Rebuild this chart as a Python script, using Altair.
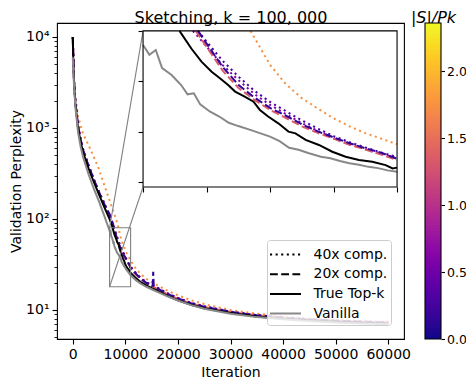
import altair as alt
import numpy as np
import pandas as pd

FONT = "DejaVu Sans"

# ---------------- layout ----------------
W, H = 347, 316
X_DOMAIN = [-3000, 63000]
Y_DOMAIN = [4.8, 14250]
ZOOM_X = [7000, 11000]
ZOOM_Y = [18, 80]
INSET_LEFT, INSET_RIGHT, INSET_BOTTOM, INSET_TOP = 0.248, 0.98, 0.481, 0.975
CBAR_MAX = 2.36
CBAR_X = [368, 384]
TITLE_BASELINE = -0.5    # px above the plot area (page is clipped above)
TITLE_SIZE = 16

STYLES = ["40x comp.", "20x comp.", "True Top-k", "Vanilla"]
DASHES = [[2.1, 3.5], [7.8, 3.4], [1, 0], [1, 0]]
STYLE_COLORS = ["black", "black", "black", "#888888"]

X_TICKS = [0, 10000, 20000, 30000, 40000, 50000, 60000]
Y_TICKS = [5, 6, 7, 8, 9, 10, 20, 30, 40, 50, 60, 70, 80, 90,
           100, 200, 300, 400, 500, 600, 700, 800, 900,
           1000, 2000, 3000, 4000, 5000, 6000, 7000, 8000, 9000, 10000]
INSET_X_TICKS = [7000, 8000, 9000, 10000, 11000]
INSET_Y_TICKS = [20, 40, 60, 80]
CBAR_TICKS = [0.0, 0.5, 1.0, 1.5, 2.0]

# ---------------- data ----------------
ITER = [0, 250, 500, 1000, 1500, 2000, 3000, 4000, 5000, 6000,
        7000, 7250, 7500, 7750, 8000, 8250, 8500, 8750, 9000, 9250, 9500,
        9750, 10000, 10250, 10500, 10750, 11000,
        12000, 13000, 14000, 15000, 16000, 18000, 20000, 22500, 25000,
        30000, 35000, 40000, 45000, 50000, 55000, 60000]

ORANGE_40X = [10000, 3400, 2200, 1350, 1050, 850, 650, 480, 350, 235,
              160, 145, 132, 120, 109, 99, 88.5, 77.5, 66.5, 58.8, 53.3,
              49.2, 45.3, 42.1, 39.4, 37.2, 35.0,
              28.5, 24.6, 22.0, 20.2, 18.9, 16.3, 14.5, 12.8, 11.6,
              10.0, 9.1, 8.5, 8.1, 7.8, 7.6, 7.45]
INDIGO_40X = [10000, 3200, 1950, 1080, 760, 575, 390, 275, 200, 150,
              110, 100, 91, 83.5, 75.8, 68.2, 61.9, 56.3, 51.8, 48.1, 44.5,
              41.2, 38.2, 35.8, 33.7, 31.7, 30.0,
              25.5, 22.3, 20.2, 18.8, 17.7, 15.3, 13.6, 12.0, 11.0,
              9.6, 8.8, 8.25, 7.9, 7.65, 7.45, 7.3]
PURPLE_40X = [10000, 3150, 1920, 1060, 750, 565, 385, 270, 196, 146,
              107, 97, 88.5, 81, 73.8, 66.5, 60.5, 55.0, 50.6, 47.0, 43.4,
              40.3, 37.4, 35.0, 33.0, 31.1, 29.6,
              25.2, 22.1, 20.0, 18.7, 17.6, 15.2, 13.5, 11.95, 10.95,
              9.55, 8.75, 8.2, 7.85, 7.6, 7.42, 7.28]
PINK_20X = [10000, 3200, 1900, 1050, 740, 560, 380, 270, 195, 143,
            112, 102, 92, 83, 73.7, 64.3, 57.4, 52.7, 48.6, 45.4, 42.1,
            39.5, 37.2, 34.8, 32.9, 30.9, 28.7,
            24.5, 21.6, 19.6, 18.3, 17.2, 14.9, 13.3, 11.8, 10.8,
            9.5, 8.7, 8.2, 7.85, 7.6, 7.4, 7.25]
INDIGO_20X = [10000, 3200, 1920, 1060, 745, 565, 385, 272, 197, 145,
              113, 103, 93.5, 84.3, 75.0, 65.8, 58.6, 53.6, 49.4, 46.3, 42.9,
              40.1, 37.7, 35.4, 33.4, 31.6, 29.2,
              25.0, 22.0, 19.9, 18.5, 17.4, 15.0, 13.4, 11.9, 10.85,
              9.55, 8.75, 8.22, 7.88, 7.62, 7.43, 7.28]
SPIKE_ITER = [15200, 15300, 15400]
SPIKE_VAL = [18.4, 26.3, 18.3]

TOPK_ITER = [0, 100, 250, 500, 1000, 1500, 2000, 3000, 4000, 5000, 6000,
             7000, 7250, 7500, 7600, 7760, 7920, 8080, 8210, 8340, 8450,
             8600, 8740, 8840, 8970, 9130, 9290, 9400, 9560, 9770, 9980,
             10190, 10400, 10610, 10820, 10930, 11000,
             12000, 13000, 14000, 15000, 16000, 18000, 20000, 22500, 25000,
             30000, 35000, 40000, 45000, 50000, 55000, 60000]
TOPK_VAL = [10000, 5500, 3100, 1850, 1000, 700, 530, 360, 255, 185, 135,
            100, 91, 83, 79, 73, 67.8, 63.8, 61.2, 58.5, 55.9,
            53.9, 51.9, 48.6, 46.0, 43.3, 40.0, 39.3, 36.7, 34.7, 32.0,
            30.0, 28.7, 28.0, 26.7, 25.4, 25.7,
            22.4, 20.1, 18.6, 17.4, 16.4, 14.3, 12.8, 11.4, 10.45,
            9.25, 8.5, 8.0, 7.7, 7.45, 7.25, 7.1]

VAN_ITER = [0, 250, 500, 1000, 1500, 2000, 3000, 4000, 5000, 6000,
            7000, 7100, 7200, 7300, 7450, 7600, 7700, 7800, 7900, 8050,
            8200, 8350, 8500, 8700, 8850, 9000, 9150, 9300, 9450, 9600,
            9800, 9950, 10100, 10250, 10400, 10550, 10700, 10850, 11000,
            12000, 13000, 14000, 15000, 16000, 18000, 20000, 22500, 25000,
            30000, 35000, 40000, 45000, 50000, 55000, 60000]
VAN_VAL = [6000, 2850, 1700, 900, 620, 470, 310, 215, 155, 108,
           74.4, 70.5, 72.4, 65.2, 62.5, 58.5, 54.8, 55.2, 50.8, 48.0,
           46.0, 43.5, 42.2, 40.6, 39.3, 38.0, 36.2, 33.6, 32.8, 31.5,
           30.0, 29.4, 28.3, 27.4, 26.8, 26.0, 25.5, 24.6, 24.1,
           21.3, 19.4, 18.0, 16.9, 15.9, 14.1, 12.7, 11.3, 10.3,
           9.1, 8.35, 7.9, 7.55, 7.3, 7.12, 7.0]

# |S|/Pk of each sketched run
S_ORANGE_40X, S_INDIGO_40X, S_PURPLE_40X = 1.75, 0.3, 0.6
S_PINK_20X, S_INDIGO_20X = 1.35, 0.15

rows = []


def add(name, style, s, iters, vals):
    for i, v in sorted(zip(iters, vals)):
        rows.append(dict(series=name, style=style, s=s, iter=i, val=v))


add("orange40", STYLES[0], S_ORANGE_40X, ITER, ORANGE_40X)
add("purple40", STYLES[0], S_PURPLE_40X, ITER, PURPLE_40X)
add("indigo40", STYLES[0], S_INDIGO_40X, ITER, INDIGO_40X)
add("pink20", STYLES[1], S_PINK_20X, ITER, PINK_20X)
add("indigo20", STYLES[1], S_INDIGO_20X, ITER + SPIKE_ITER, INDIGO_20X + SPIKE_VAL)
add("topk", STYLES[2], np.nan, TOPK_ITER, TOPK_VAL)
add("vanilla", STYLES[3], np.nan, VAN_ITER, VAN_VAL)
df = pd.DataFrame(rows)

zoom_df = pd.DataFrame([dict(x0=ZOOM_X[0], x1=ZOOM_X[1], y0=ZOOM_Y[0], y1=ZOOM_Y[1])])

# inset corners expressed in main-axes data coordinates
lx0, lx1 = np.log10(Y_DOMAIN[0]), np.log10(Y_DOMAIN[1])
xi = X_DOMAIN[0] + INSET_LEFT * (X_DOMAIN[1] - X_DOMAIN[0])
yi_top = 10 ** (lx0 + INSET_TOP * (lx1 - lx0))
yi_bot = 10 ** (lx0 + INSET_BOTTOM * (lx1 - lx0))
conn_df = pd.DataFrame([
    dict(x=ZOOM_X[0], y=ZOOM_Y[1], x2=xi, y2=yi_top),
    dict(x=ZOOM_X[0], y=ZOOM_Y[0], x2=xi, y2=yi_bot),
])

# colour bar cells
edges = np.linspace(0, CBAR_MAX, 121)
step = edges[1] - edges[0]
cb_df = pd.DataFrame(dict(lo=edges[:-1], hi=np.minimum(edges[1:] + 0.6 * step, CBAR_MAX),
                          mid=(edges[:-1] + edges[1:]) / 2, c0=0.0, c1=1.0))
cb_box = pd.DataFrame([dict(lo=0.0, hi=CBAR_MAX, c0=0.0, c1=1.0)])

# ---------------- scales / axes ----------------
cscale = alt.Scale(scheme="plasma", domain=[0, CBAR_MAX])
dscale = alt.Scale(domain=STYLES, range=DASHES)
sscale = alt.Scale(domain=STYLES, range=STYLE_COLORS)

xs = alt.Scale(domain=X_DOMAIN, nice=False, zero=False)
ys = alt.Scale(type="log", domain=Y_DOMAIN, nice=False)

major = "datum.value == 10 || datum.value == 100 || datum.value == 1000 || datum.value == 10000"
x_axis = alt.Axis(values=X_TICKS, format="d", title="Iteration", labelFontSize=14,
                  titleFontSize=14, titleFontWeight="normal", tickSize=5, tickWidth=1.1,
                  domain=False, grid=False, labelPadding=3, titlePadding=4,
                  labelOverlap=False, labelFlush=False)
y_axis = alt.Axis(values=Y_TICKS, title="Validation Perplexity", labelFontSize=14,
                  labelExpr=("datum.value == 10 ? '10\u00b9' : datum.value == 100 ? '10\u00b2' : "
                             "datum.value == 1000 ? '10\u00b3' : datum.value == 10000 ? '10\u2074' : ''"),
                  tickSize={"condition": {"test": major, "value": 5}, "value": 3},
                  tickWidth={"condition": {"test": major, "value": 1.1}, "value": 0.85},
                  titleFontSize=14, titleFontWeight="normal", domain=False, grid=False,
                  labelPadding=3, labelOverlap=False, labelFlush=False,
                  titleAngle=270, titleX=-34, titleY=H / 2, titleBaseline="bottom",
                  titleAlign="center")

X = alt.X("iter:Q", scale=xs, axis=x_axis)
Y = alt.Y("val:Q", scale=ys, axis=y_axis)

LEG = alt.Legend(title=None, orient="none", legendX=210, legendY=217,
                 symbolType="M-1.55,0H1.55", symbolSize=400, symbolStrokeWidth=2,
                 symbolOffset=4, labelOffset=17, labelFontSize=14, labelFont=FONT,
                 labelColor="black", padding=3.5, rowPadding=1.7,
                 fillColor="rgba(255,255,255,0.8)", strokeColor="#cccccc",
                 cornerRadius=3, labelLimit=200)
DASH = alt.StrokeDash("style:N", scale=dscale, legend=LEG)

base = alt.Chart(df)
sketched = STYLES[:2]

main_col = base.transform_filter(
    alt.FieldOneOfPredicate(field="style", oneOf=sketched)
).mark_line(strokeWidth=2).encode(
    x=X, y=Y,
    color=alt.Color("s:Q", scale=cscale, legend=None),
    strokeDash=DASH,
    detail="series:N",
)
main_topk = base.transform_filter(alt.datum.style == STYLES[2]).mark_line(
    color="black", strokeWidth=2).encode(x=X, y=Y)
main_van = base.transform_filter(alt.datum.style == STYLES[3]).mark_line(
    color="#888888", strokeWidth=2).encode(x=X, y=Y)
zoom_rect = alt.Chart(zoom_df).mark_rect(fillOpacity=0, stroke="#808080", strokeWidth=1.1).encode(
    x=alt.X("x0:Q", scale=xs, axis=x_axis), x2="x1:Q",
    y=alt.Y("y0:Q", scale=ys, axis=y_axis), y2="y1:Q")
connectors = alt.Chart(conn_df).mark_rule(color="#808080", strokeWidth=1.1).encode(
    x=alt.X("x:Q", scale=xs, axis=x_axis), x2="x2:Q",
    y=alt.Y("y:Q", scale=ys, axis=y_axis), y2="y2:Q")
# one point per style: draws nothing, but carries the style legend (black / grey keys)
legend_layer = base.transform_filter(alt.datum.iter == 0).mark_line(strokeWidth=2).encode(
    x=X, y=Y,
    stroke=alt.Stroke("style:N", scale=sscale, legend=LEG),
    strokeDash=DASH,
)
main = alt.layer(main_col, main_topk, main_van, zoom_rect, connectors, legend_layer)

# ---------------- inset ----------------
ix0, ix1 = INSET_LEFT * W, INSET_RIGHT * W
iyb, iyt = H * (1 - INSET_BOTTOM), H * (1 - INSET_TOP)
ixs = alt.Scale(domain=ZOOM_X, range=[ix0, ix1], nice=False, zero=False)
iys = alt.Scale(domain=ZOOM_Y, range=[iyb, iyt], nice=False, zero=False)
ix_axis = alt.Axis(orient="bottom", offset=-(H - iyb), values=INSET_X_TICKS, labels=False,
                   tickSize=5, tickWidth=1.1, domain=False, grid=False, title=None)
iy_axis = alt.Axis(orient="left", offset=-ix0, values=INSET_Y_TICKS, labels=False,
                   tickSize=5, tickWidth=1.1, domain=False, grid=False, title=None)

ytop = ZOOM_Y[1]
inset_base = base.transform_filter(
    (alt.datum.iter >= ZOOM_X[0]) & (alt.datum.iter <= ZOOM_X[1])
).transform_window(
    nx="lead(iter)", nv="lead(val)", groupby=["series"], sort=[alt.SortField("iter")]
).transform_calculate(
    cross=f"datum.val > {ytop} && isValid(datum.nv) && datum.nv <= {ytop}"
).transform_calculate(
    ix=f"datum.cross ? datum.iter + ({ytop} - datum.val) / (datum.nv - datum.val) * (datum.nx - datum.iter) : datum.iter",
    iv=f"datum.cross ? {ytop} : datum.val",
).transform_filter(f"datum.iv <= {ytop}")

IX = alt.X("ix:Q", scale=ixs, axis=ix_axis)
IY = alt.Y("iv:Q", scale=iys, axis=iy_axis)

inset_bg = alt.Chart(zoom_df).mark_rect(fill="white").encode(
    x=alt.X("x0:Q", scale=ixs, axis=ix_axis), x2="x1:Q",
    y=alt.Y("y0:Q", scale=iys, axis=iy_axis), y2="y1:Q")
inset_col = inset_base.transform_filter(
    alt.FieldOneOfPredicate(field="style", oneOf=sketched)
).mark_line(strokeWidth=2).encode(
    x=IX, y=IY,
    color=alt.Color("s:Q", scale=cscale, legend=None),
    strokeDash=DASH,
    detail="series:N",
)
inset_topk = inset_base.transform_filter(alt.datum.style == STYLES[2]).mark_line(
    color="black", strokeWidth=2).encode(x=IX, y=IY)
inset_van = inset_base.transform_filter(alt.datum.style == STYLES[3]).mark_line(
    color="#888888", strokeWidth=2).encode(x=IX, y=IY)
inset_frame = alt.Chart(zoom_df).mark_rect(fillOpacity=0, stroke="black", strokeWidth=1.1).encode(
    x=alt.X("x0:Q", scale=ixs, axis=ix_axis), x2="x1:Q",
    y=alt.Y("y0:Q", scale=iys, axis=iy_axis), y2="y1:Q")
inset = alt.layer(inset_bg, inset_col, inset_topk, inset_van, inset_frame)

# ---------------- colour bar (+ chart title on its top axis) ----------------
cxs = alt.Scale(domain=[0, 1], range=CBAR_X, nice=False, zero=False)
cys = alt.Scale(domain=[0, CBAR_MAX], range=[H, 0], nice=False, zero=False)
cb_axis = alt.Axis(orient="right", offset=CBAR_X[1] - W, values=CBAR_TICKS, format=".1f",
                   tickSize=3.5, tickWidth=1.1, labelFontSize=12.5, labelPadding=2,
                   domain=False, grid=False, labelOverlap=False, labelFlush=False,
                   title="|S|/Pk", titleAngle=0, titleX=-(CBAR_X[1] - CBAR_X[0]) / 2,
                   titleY=TITLE_BASELINE, titleAlign="center", titleBaseline="alphabetic",
                   titleFontStyle="italic", titleFontSize=TITLE_SIZE, titleFontWeight="normal")
title_axis = alt.Axis(orient="top", domain=False, ticks=False, labels=False, grid=False,
                      title="Sketching, k = 100, 000", titleAngle=0, titleX=W / 2,
                      titleY=TITLE_BASELINE, titleAlign="center", titleBaseline="alphabetic",
                      titleFontSize=TITLE_SIZE, titleFontWeight="normal")
cb_cells = alt.Chart(cb_df).mark_rect().encode(
    x=alt.X("c0:Q", scale=cxs, axis=title_axis), x2="c1:Q",
    y=alt.Y("lo:Q", scale=cys, axis=cb_axis), y2="hi:Q",
    color=alt.Color("mid:Q", scale=cscale, legend=None))
cb_outline = alt.Chart(cb_box).mark_rect(fillOpacity=0, stroke="black", strokeWidth=1.1).encode(
    x=alt.X("c0:Q", scale=cxs, axis=title_axis), x2="c1:Q",
    y=alt.Y("lo:Q", scale=cys, axis=cb_axis), y2="hi:Q")
cbar = alt.layer(cb_cells, cb_outline)

chart = alt.layer(main, inset, cbar).resolve_scale(
    x="independent", y="independent"
).properties(
    width=W, height=H,
    padding={"left": 49, "top": 15, "right": 62, "bottom": 42},
    autosize=alt.AutoSizeParams(type="none"),
).configure_view(
    stroke="black", strokeWidth=1.1
).configure_axis(
    labelFont=FONT, titleFont=FONT, labelColor="black", titleColor="black", tickColor="black"
).configure_legend(
    labelFont=FONT
)

chart.save("out.html", embed_options={"renderer": "svg", "actions": False})
